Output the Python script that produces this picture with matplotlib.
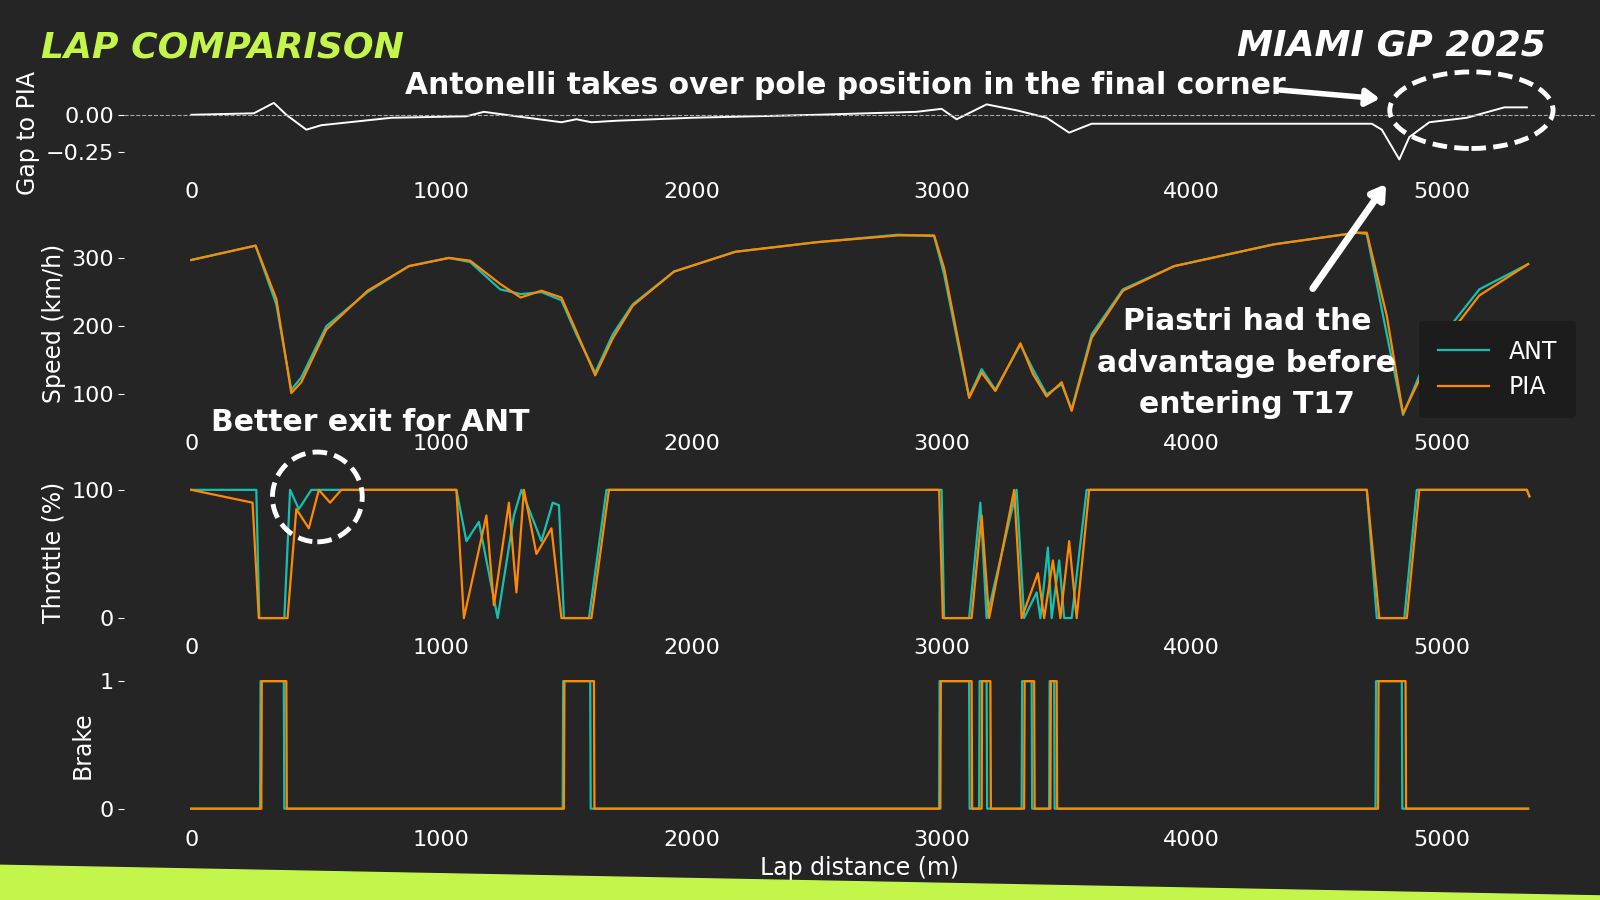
import matplotlib
matplotlib.use("Agg")
import matplotlib.pyplot as plt
from matplotlib.patches import Ellipse, FancyArrowPatch, Polygon

BG = "#262525"
LIME = "#c4f54a"
ANT_C = "#16c0b0"
PIA_C = "#ff8a00"

# ---- data ----
gap_dist = [0, 250, 330, 380, 460, 520, 800, 1100, 1170, 1300, 1480, 1540, 1600, 1700, 2000, 2500,
            2900, 3000, 3060, 3180, 3300, 3420, 3510, 3600, 4000, 4600, 4720, 4760, 4830, 4870, 4950,
            5100, 5250, 5340]
gap_val = [0, 0.01, 0.08, 0.0, -0.1, -0.07, -0.02, -0.01, 0.02, -0.01, -0.05, -0.03, -0.05, -0.04,
           -0.02, 0.0, 0.02, 0.04, -0.03, 0.07, 0.03, -0.02, -0.12, -0.06, -0.06, -0.06, -0.06, -0.1,
           -0.3, -0.15, -0.05, -0.02, 0.05, 0.05]

spd_dist = [0, 257, 340, 400, 440, 540, 705, 870, 1030, 1115, 1235, 1317, 1400, 1480, 1540, 1615,
            1685, 1765, 1930, 2175, 2500, 2825, 2970, 3010, 3090, 3110, 3160, 3215, 3315, 3365, 3420,
            3480, 3520, 3600, 3725, 3930, 4330, 4660, 4700, 4780, 4845, 4945, 5150, 5345]
spd_ant = [297, 318, 232, 107, 125, 200, 250, 288, 300, 294, 254, 247, 250, 238, 188, 132,
           188, 232, 280, 309, 323, 334, 332, 276, 130, 97, 137, 107, 173, 137, 100,
           115, 78, 188, 254, 288, 320, 337, 335, 188, 70, 159, 254, 291]
spd_pia = [297, 318, 240, 102, 118, 195, 252, 288, 300, 296, 262, 242, 252, 242, 192, 128,
           182, 230, 280, 309, 323, 333, 333, 285, 135, 95, 132, 105, 175, 130, 97,
           118, 76, 183, 252, 288, 320, 337, 337, 215, 72, 148, 245, 291]

thr_dist_ant = [0, 260, 272, 372, 395, 430, 480, 1060, 1100, 1150, 1225, 1290, 1320, 1400, 1445, 1470,
                1490, 1590, 1660, 3000, 3010, 3110, 3155, 3180, 3300, 3330, 3380, 3395, 3425, 3440,
                3470, 3490, 3520, 3580, 4700, 4740, 4850, 4900, 5340, 5350]
thr_ant = [100, 100, 0, 0, 100, 85, 100, 100, 60, 75, 0, 80, 100, 60, 90, 88,
           0, 0, 100, 100, 0, 0, 90, 0, 100, 0, 20, 0, 55, 0,
           45, 0, 0, 100, 100, 0, 0, 100, 100, 95]
thr_dist_pia = [0, 245, 270, 385, 420, 470, 510, 555, 600, 1060, 1090, 1180, 1210, 1270, 1300, 1330,
                1380, 1440, 1480, 1600, 1670, 2990, 3005, 3120, 3160, 3190, 3290, 3320, 3385, 3410,
                3445, 3475, 3510, 3540, 3590, 4700, 4750, 4860, 4910, 5340, 5350]
thr_pia = [100, 90, 0, 0, 85, 70, 100, 90, 100, 100, 0, 80, 10, 90, 20, 100,
           50, 70, 0, 0, 100, 100, 0, 0, 80, 0, 100, 0, 35, 0,
           45, 0, 60, 0, 100, 100, 0, 0, 100, 100, 95]

brk_dist_ant = [0, 275, 277, 370, 372, 1485, 1487, 1595, 1597, 2990, 2992, 3110, 3112, 3150, 3152,
                3180, 3182, 3320, 3322, 3360, 3362, 3430, 3432, 3450, 3452, 4735, 4737, 4840, 4842, 5345]
brk_ant = [0, 0, 1, 1, 0, 0, 1, 1, 0, 0, 1, 1, 0, 0, 1, 1, 0, 0, 1, 1, 0, 0, 1, 1, 0, 0, 1, 1, 0, 0]
brk_dist_pia = [0, 280, 282, 380, 382, 1490, 1492, 1610, 1612, 2995, 2997, 3120, 3122, 3160, 3162,
                3195, 3197, 3330, 3332, 3370, 3372, 3435, 3437, 3460, 3462, 4745, 4747, 4855, 4857, 5345]
brk_pia = brk_ant[:]

xticks = [0, 1000, 2000, 3000, 4000, 5000]

# ---- figure ----
W, H = 1568, 882   # reference measured in this frame
fig = plt.figure(figsize=(16, 9), dpi=100, facecolor=BG)
plt.rcParams['font.family'] = ['DejaVu Sans']

def ax_px(top, bottom, left=122, right=1563):
    return fig.add_axes([left / W, 1 - bottom / H, (right - left) / W, (bottom - top) / H])

def style(ax, ylabel):
    ax.set_facecolor(BG)
    for s in ax.spines.values():
        s.set_visible(False)
    ax.tick_params(colors="white", labelsize=16, length=4, width=0.8)
    ax.tick_params(axis="x", length=0, pad=10)
    ax.set_xticks(xticks)
    ax.set_xlim(-267, 5612)
    ax.set_ylabel(ylabel, color="white", fontsize=17)

ax0 = ax_px(95, 165)
ax0.plot(gap_dist, gap_val, color="white", lw=1.4)
ax0.axhline(0, color="#aaaaaa", ls="--", lw=0.8)
ax0.set_ylim(-0.36, 0.12)
ax0.set_yticks([0.0, -0.25])
ax0.set_yticklabels(["0.00", "\u22120.25"])
style(ax0, "Gap to PIA")

ax1 = ax_px(222, 412)
ax1.plot(spd_dist, spd_ant, color=ANT_C, lw=1.6, label="ANT")
ax1.plot(spd_dist, spd_pia, color=PIA_C, lw=1.6, label="PIA")
ax1.set_ylim(62, 346)
ax1.set_yticks([100, 200, 300])
style(ax1, "Speed (km/h)")
leg = ax1.legend(loc="lower right", fontsize=17, facecolor="#1c1c1c", framealpha=1,
                 edgecolor="none", labelcolor="white", borderpad=0.8, handlelength=2.2,
                 bbox_to_anchor=(0.995, -0.05))

ax2 = ax_px(470, 612)
ax2.plot(thr_dist_ant, thr_ant, color=ANT_C, lw=1.6)
ax2.plot(thr_dist_pia, thr_pia, color=PIA_C, lw=1.6)
ax2.set_ylim(-5, 108)
ax2.set_yticks([0, 100])
style(ax2, "Throttle (%)")

ax3 = ax_px(660, 800)
ax3.plot(brk_dist_ant, brk_ant, color=ANT_C, lw=1.6)
ax3.plot(brk_dist_pia, brk_pia, color=PIA_C, lw=1.6)
ax3.set_ylim(-0.06, 1.06)
ax3.set_yticks([0, 1])
style(ax3, "Brake")
ax3.set_xlabel("Lap distance (m)", color="white", fontsize=17, labelpad=4)

# texts
def fx(x): return x / W
def fy(y): return 1 - y / H

fig.text(fx(40), fy(47), "LAP COMPARISON", color=LIME, fontsize=26, fontweight="bold",
         style="italic", va="center", ha="left")
fig.text(fx(1515), fy(45), "MIAMI GP 2025", color="white", fontsize=26, fontweight="bold",
         style="italic", va="center", ha="right")
fig.text(fx(828), fy(84), "Antonelli takes over pole position in the final corner", color="white",
         fontsize=21.5, fontweight="bold", ha="center", va="center")
fig.text(fx(1222), fy(356), "Piastri had the\nadvantage before\nentering T17", color="white",
         fontsize=21.5, fontweight="bold", ha="center", va="center", linespacing=1.55)
fig.text(fx(363), fy(414), "Better exit for ANT", color="white", fontsize=21.5, fontweight="bold",
         ha="center", va="center")

fig.add_artist(Ellipse((fx(1442), fy(108)), 160 / W, 75 / H, transform=fig.transFigure,
                       fill=False, ec="white", lw=3.5, ls=(0, (3, 1.5))))
fig.add_artist(Ellipse((fx(311), fy(487)), 88 / W, 88 / H, transform=fig.transFigure,
                       fill=False, ec="white", lw=3.5, ls=(0, (3, 1.5))))
fig.add_artist(FancyArrowPatch((fx(1252), fy(88)), (fx(1355), fy(97)), transform=fig.transFigure,
                               arrowstyle="-|>,head_length=8,head_width=5", color="white", lw=4))
fig.add_artist(FancyArrowPatch((fx(1285), fy(285)), (fx(1360), fy(178)), transform=fig.transFigure,
                               arrowstyle="-|>,head_length=8,head_width=5", color="white", lw=5))

fig.add_artist(Polygon([(0, fy(848)), (1, fy(878)), (1, 0), (0, 0)], closed=True,
                       transform=fig.transFigure, color=LIME, zorder=0))

fig.savefig("out.png", dpi=100, facecolor=BG)
